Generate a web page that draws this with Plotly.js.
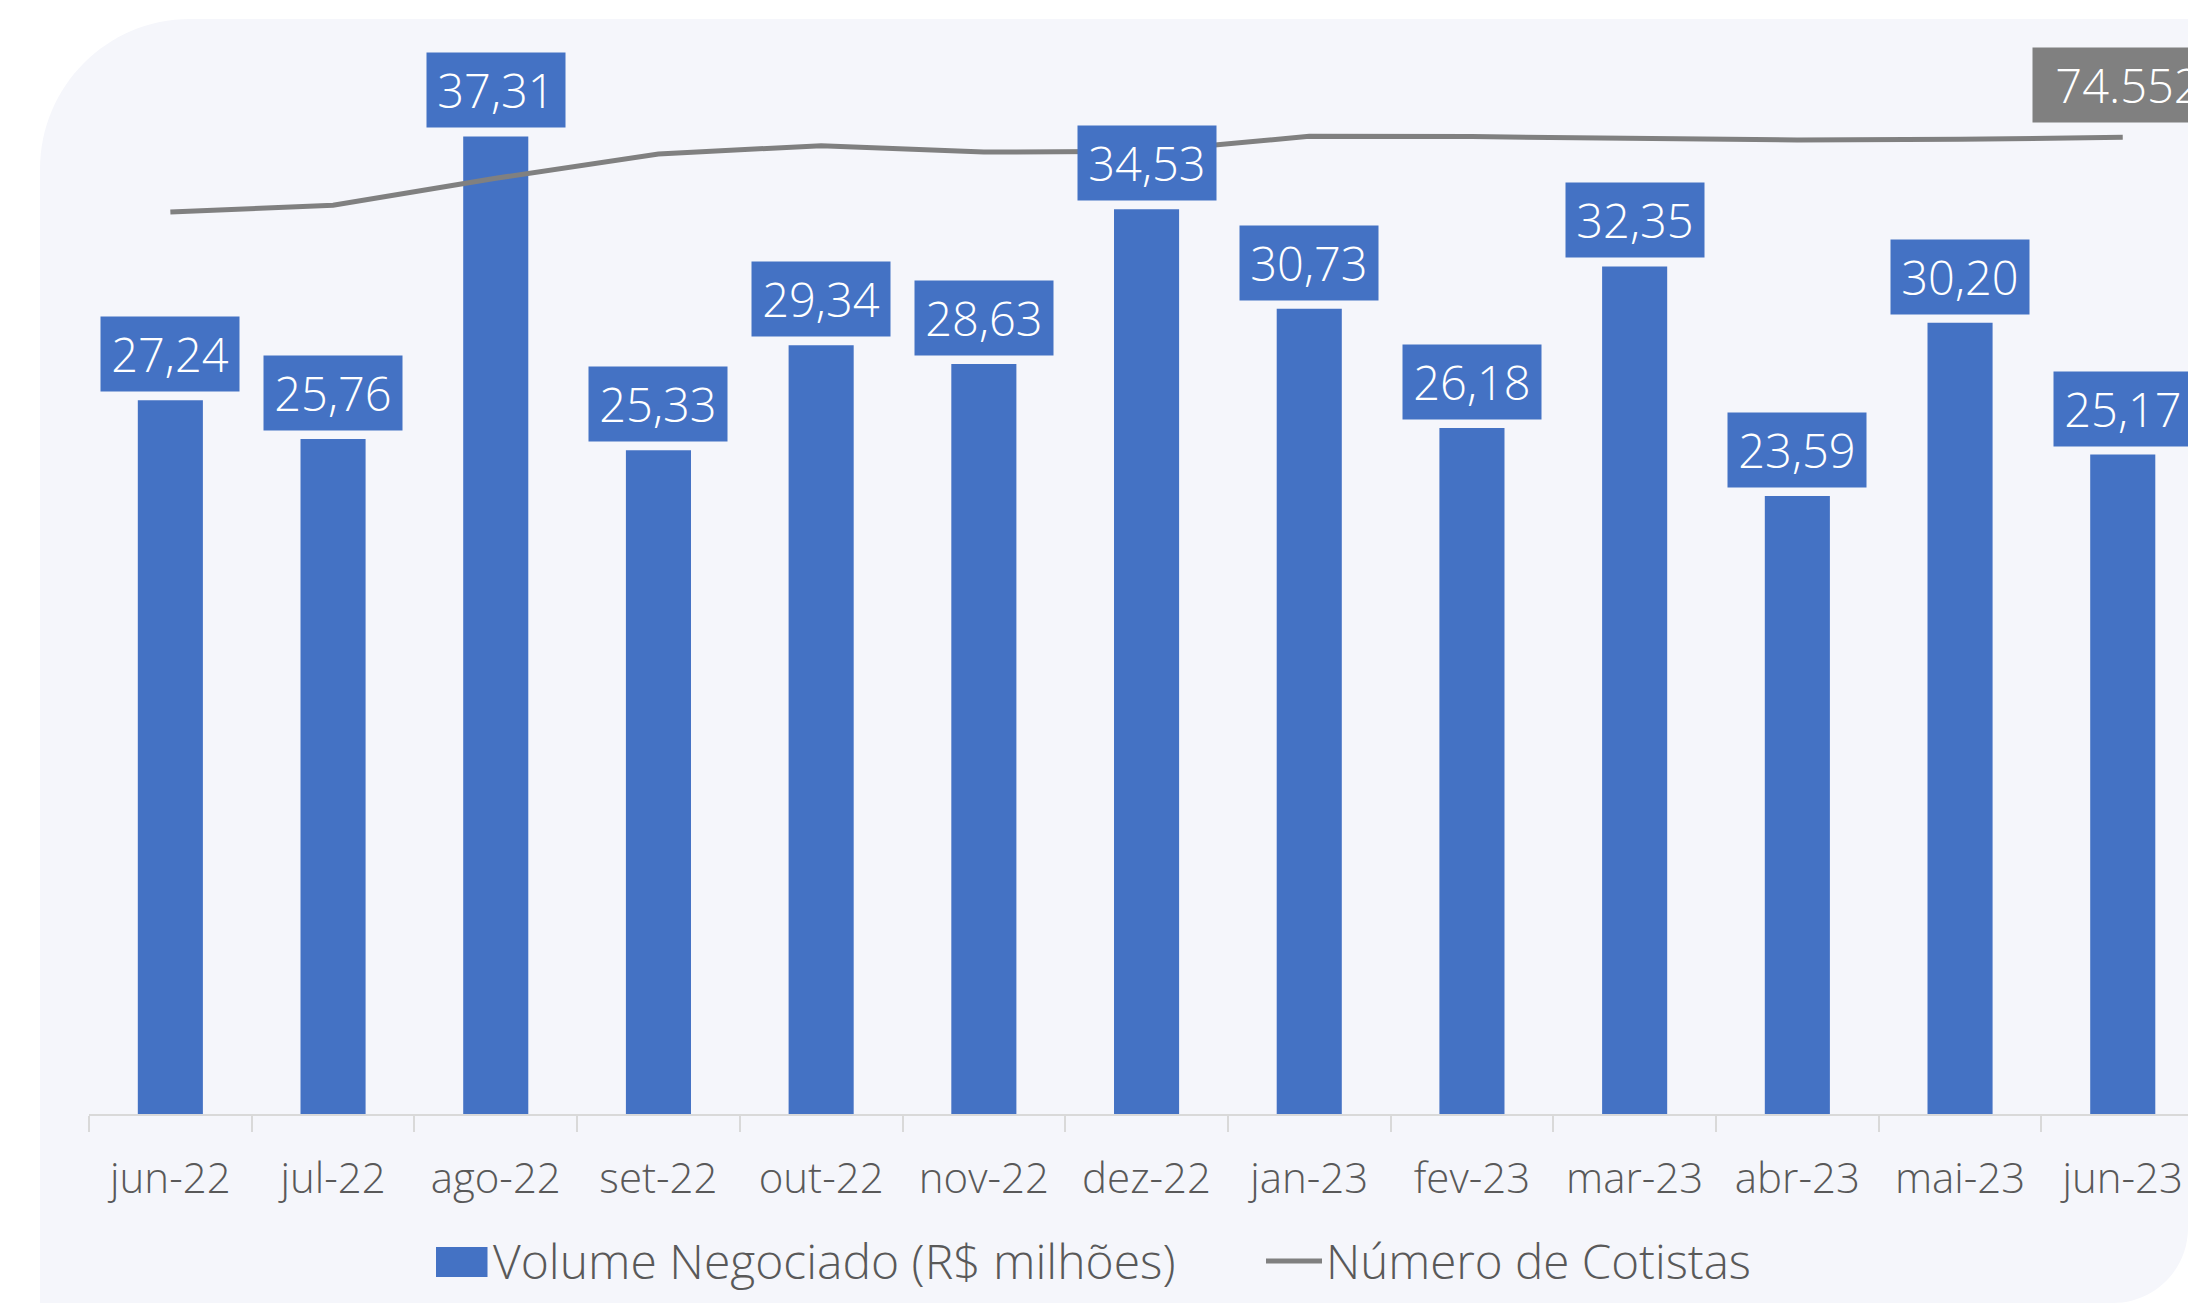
<!DOCTYPE html>
<html>
<head>
<meta charset="utf-8">
<script src="https://cdn.plot.ly/plotly-3.0.1.min.js"></script>
<style>
  html, body { margin: 0; padding: 0; background: #ffffff; overflow: hidden; }
  #chart { width: 2188px; height: 1303px; }
</style>
</head>
<body>
<div id="chart"></div>
<script>
// ---- data ----
const categories = ['jun-22','jul-22','ago-22','set-22','out-22','nov-22','dez-22','jan-23','fev-23','mar-23','abr-23','mai-23','jun-23'];
const volume = [27.24, 25.76, 37.31, 25.33, 29.34, 28.63, 34.53, 30.73, 26.18, 32.35, 23.59, 30.20, 25.17];
const cotistas = [68860, 69370, 71430, 73280, 73920, 73430, 73490, 74630, 74610, 74460, 74360, 74400, 74552];
const seriesNames = ['Volume Negociado (R$ milhões)', 'Número de Cotistas'];

// ---- layout geometry (pixels) ----
const W = 2188, H = 1303;
const M = { l: 89, r: 0, t: 66, b: 189 };
const plotW = W - M.l - M.r, plotH = H - M.t - M.b;
const px2x = px => (px - M.l) / plotW;
const px2y = py => (H - M.b - py) / plotH;
const P = (x, y) => px2x(x).toFixed(5) + ',' + px2y(y).toFixed(5);

const FONT = '"Open Sans", "Noto Sans", sans-serif';
const WEIGHT = 300;
const BLUE = '#4472C4', GREY = '#808080', TXT = '#595959', BG = '#F5F6FB';

const fmtVol = v => v.toFixed(2).replace('.', ',');
const fmtInt = v => String(v).replace(/\B(?=(\d{3})+(?!\d))/g, '.');

const barTrace = {
  type: 'bar', x: categories, y: volume, name: seriesNames[0],
  marker: { color: BLUE }, width: 0.4, hoverinfo: 'x+y', showlegend: false
};
const lineTrace = {
  type: 'scatter', mode: 'lines', x: categories, y: cotistas, yaxis: 'y2', name: seriesNames[1],
  line: { color: GREY, width: 5 }, showlegend: false
};

const annotations = categories.map((c, i) => ({
  x: c, y: volume[i], xref: 'x', yref: 'y', yanchor: 'bottom', xanchor: 'center', yshift: 8,
  text: fmtVol(volume[i]), showarrow: false, bgcolor: BLUE, borderpad: 0,
  width: 138, height: 74, align: 'center', valign: 'middle',
  font: { family: FONT, size: 47, color: '#ffffff', weight: WEIGHT }
}));
const last = categories.length - 1;
annotations.push({
  x: categories[last], y: cotistas[last], xref: 'x', yref: 'y2', yanchor: 'bottom', xanchor: 'center',
  yshift: 14, xshift: 5, text: fmtInt(cotistas[last]), showarrow: false, bgcolor: GREY, borderpad: 0,
  width: 190, height: 74, align: 'center', valign: 'middle',
  font: { family: FONT, size: 47, color: '#ffffff', weight: WEIGHT }
});
// legend texts
annotations.push({
  x: px2x(491), y: px2y(1260), xref: 'paper', yref: 'paper', xanchor: 'left', yanchor: 'middle',
  text: seriesNames[0], showarrow: false, font: { family: FONT, size: 48, color: TXT, weight: WEIGHT }
});
annotations.push({
  x: px2x(1324), y: px2y(1260), xref: 'paper', yref: 'paper', xanchor: 'left', yanchor: 'middle',
  text: seriesNames[1], showarrow: false, font: { family: FONT, size: 47.5, color: TXT, weight: WEIGHT }
});

const shapes = [
  { // rounded card background
    type: 'path', xref: 'paper', yref: 'paper', layer: 'below', line: { width: 0 }, fillcolor: BG,
    path: 'M' + P(40, 1303) + ' L' + P(40, 169) + ' C' + P(40, 86.2) + ' ' + P(107.2, 19) + ' ' + P(190, 19) +
          ' L' + P(2188, 19) + ' L' + P(2188, 1228) + ' C' + P(2188, 1269.4) + ' ' + P(2154.4, 1303) + ' ' + P(2113, 1303) + ' Z'
  },
  { // legend swatch: bars
    type: 'rect', xref: 'paper', yref: 'paper', x0: px2x(436), x1: px2x(487.5), y0: px2y(1247), y1: px2y(1277),
    fillcolor: BLUE, line: { width: 0 }
  },
  { // legend swatch: line
    type: 'line', xref: 'paper', yref: 'paper', x0: px2x(1266), x1: px2x(1322), y0: px2y(1261), y1: px2y(1261),
    line: { color: GREY, width: 5 }
  }
];

const layout = {
  width: W, height: H, margin: M,
  paper_bgcolor: '#ffffff', plot_bgcolor: 'rgba(0,0,0,0)',
  font: { family: FONT, color: TXT, weight: WEIGHT },
  showlegend: false,
  xaxis: {
    type: 'category', range: [-0.5, -0.5 + plotW / 162.7], fixedrange: true,
    showline: true, linecolor: '#D9D9D9', linewidth: 2,
    ticks: 'outside', tickson: 'boundaries', ticklen: 16, tickwidth: 2, tickcolor: '#D9D9D9',
    ticklabelstandoff: 27,
    tickfont: { family: FONT, size: 42, color: TXT, weight: WEIGHT }, showgrid: false, zeroline: false
  },
  yaxis: { range: [0, 40], visible: false, showgrid: false, zeroline: false, fixedrange: true },
  yaxis2: { range: [0, 80000], overlaying: 'y', side: 'right', visible: false, showgrid: false, zeroline: false, fixedrange: true },
  annotations: annotations,
  shapes: shapes
};

Plotly.newPlot('chart', [barTrace, lineTrace], layout, { displayModeBar: false, staticPlot: true });
</script>
</body>
</html>
